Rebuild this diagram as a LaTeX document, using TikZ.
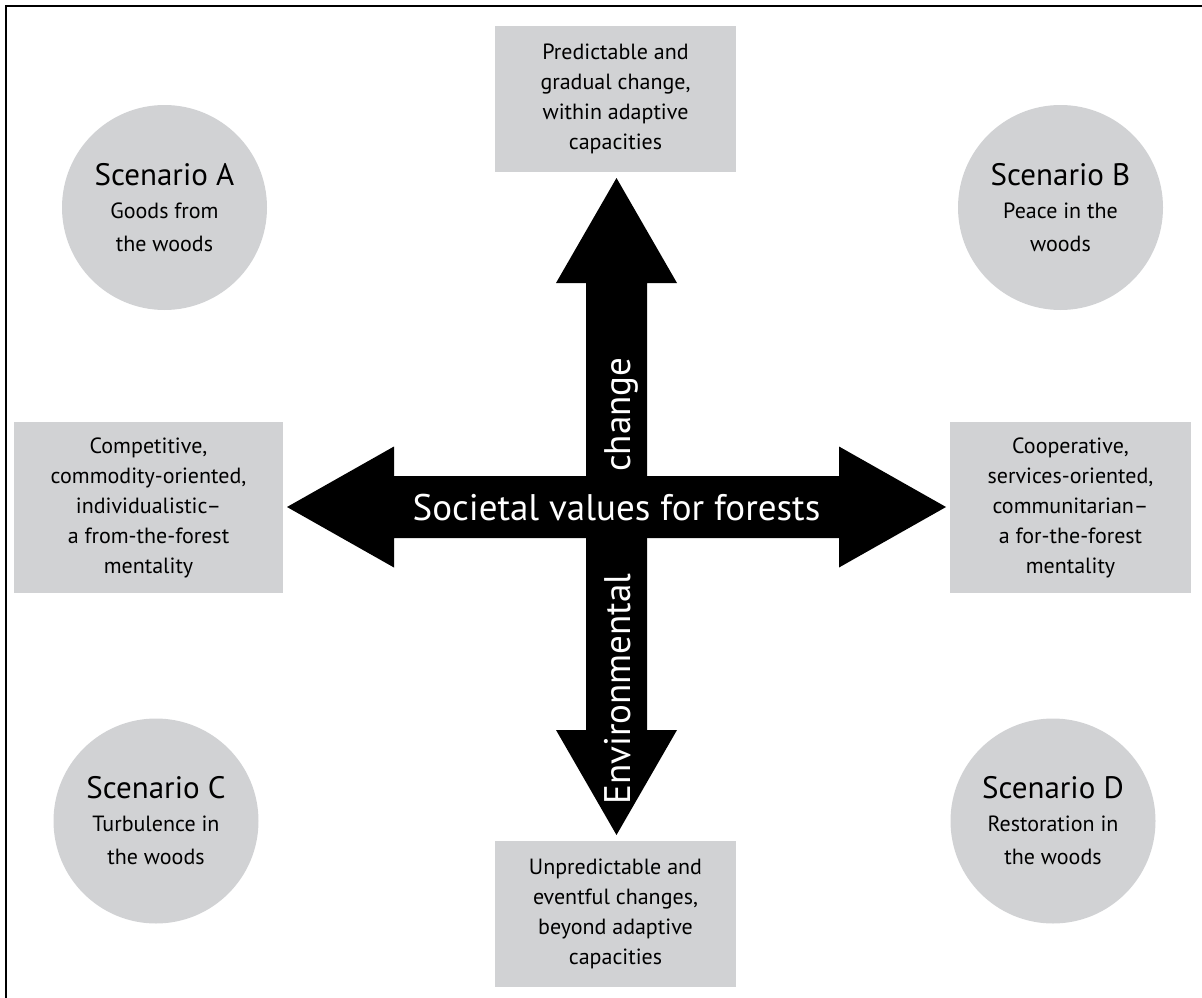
\documentclass[tikz,border=0pt]{standalone}
\usepackage{fontspec}
\setmainfont{PT Sans}
\definecolor{panelgray}{RGB}{209,210,212}
\tikzset{
  scenario/.style={circle, fill=panelgray, minimum size=205pt, inner sep=0pt, align=center,
    font=\fontsize{22}{33}\selectfont},
  infobox/.style={rectangle, fill=panelgray, inner sep=0pt, align=center, font=\fontsize{22}{30}\selectfont},
  axislabel/.style={text=white, inner sep=0pt, font=\fontsize{37}{40}\selectfont},
  blockarrow/.style={fill=black, draw=none}
}
\newcommand{\sctitle}[1]{{\fontsize{31}{33}\selectfont #1}}
\begin{document}
\begin{tikzpicture}[x=1pt, y=-1pt]
\useasboundingbox (0,0) rectangle (1202,998);
\begin{scope}
\clip (0,0) rectangle (1202,998);
\draw[line width=2pt] (6,6) rectangle (1300,1100);
\end{scope}

% scenario discs
\node[scenario] (scA) at (164.5,207.5) {\sctitle{Scenario A}\\Goods from\\the woods};
\node[scenario] (scB) at (1060.5,207.5) {\sctitle{Scenario B}\\Peace in the\\woods};
\node[scenario] (scC) at (156,821) {\sctitle{Scenario C}\\Turbulence in\\the woods};
\node[scenario] (scD) at (1053,821) {\sctitle{Scenario D}\\Restoration in\\the woods};

% end-point boxes
\node[infobox, minimum width=241pt, minimum height=146pt] (top) at (615.5,99)
  {Predictable and\\gradual change,\\within adaptive\\capacities};
\node[infobox, minimum width=241pt, minimum height=146pt] (bottom) at (615.5,914)
  {Unpredictable and\\eventful changes,\\beyond adaptive\\capacities};
\node[infobox, minimum width=269pt, minimum height=171pt] (left) at (148.5,507.5)
  {Competitive,\\commodity-oriented,\\individualistic--\\a from-the-forest\\mentality};
\node[infobox, minimum width=241pt, minimum height=171pt] (right) at (1070.5,507.5)
  {Cooperative,\\services-oriented,\\communitarian--\\a for-the-forest\\mentality};

% double-headed block arrows
\coordinate (c) at (616.5,507);
\fill[blockarrow] (287,507) -- (394,446.5) -- (394,476) -- (839,476) -- (839,446.5) -- (946,507)
  -- (839,567.5) -- (839,538) -- (394,538) -- (394,567.5) -- cycle;
\fill[blockarrow] (616.5,178) -- (677,283) -- (647,283) -- (647,730) -- (677,730) -- (616.5,835)
  -- (556,730) -- (586,730) -- (586,283) -- (556,283) -- cycle;

% axis labels
\node[axislabel] (societal) at (616.5,508) {Societal values for forests};
\node[axislabel, rotate=90, anchor=base west] (envA) at (630,805) {Environmental};
\node[axislabel, rotate=90, anchor=base west] (envB) at (630,472) {change};
\end{tikzpicture}
\end{document}
